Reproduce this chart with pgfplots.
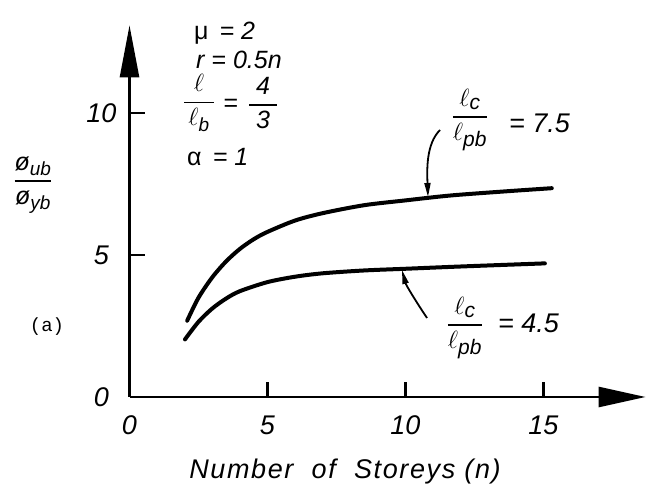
\documentclass[border=0pt]{standalone}
\usepackage{amsmath}
\usepackage{fontspec}
\setmainfont{Liberation Sans}
\newfontfamily\monofont{Liberation Mono}
\newfontfamily\spaced[LetterSpace=6]{Liberation Sans}
\usepackage{pgfplots}
\pgfplotsset{compat=1.18}
\usetikzlibrary{arrows.meta}
\DeclareMathSizes{27}{27}{21}{17}
\DeclareMathSizes{25}{25}{19}{15}
\newcommand{\fr}[2]{\genfrac{}{}{1.6pt}{0}{#1}{#2}}
\newcommand{\ti}[1]{\text{\itshape #1}}
\begin{document}
\begin{tikzpicture}
\useasboundingbox (0,0) rectangle (646pt,490pt);
\begin{axis}[
  anchor=south west, at={(129.5pt,93pt)},
  x=27.6pt, y=28.37pt,
  xmin=0, xmax=18.7, ymin=0, ymax=13.1,
  axis lines=left, enlargelimits=false, clip=false,
  axis line style={line width=2.6pt},
  x axis line style={-{Triangle[length=47pt,width=20pt]}},
  y axis line style={-{Triangle[length=52pt,width=19pt]}},
  xtick={0,5,10,15}, xticklabels={0,5,10,15},
  ytick={0,5,10}, yticklabels={0,5,10},
  tick align=inside, major tick length=15pt,
  tick style={line width=2.4pt, black},
  xticklabel style={anchor=center, yshift=-28pt, font=\fontsize{27}{27}\selectfont\itshape},
  yticklabel style={anchor=center, xshift=-28pt, font=\fontsize{27}{27}\selectfont\itshape},
]
\addplot[smooth, line width=4pt, line cap=round, black] coordinates {
 (2.09,2.69) (2.5,3.5) (3.0,4.22) (3.5,4.78) (4.0,5.22) (4.5,5.56) (5.0,5.82) (6.0,6.22)
 (7.0,6.48) (8.5,6.76) (10,6.93) (11.6,7.10) (13.5,7.24) (15.3,7.36)};
\addplot[smooth, line width=4pt, line cap=round, black] coordinates {
 (2.01,2.03) (2.5,2.65) (3.0,3.12) (3.5,3.47) (4.0,3.73) (5.0,4.05) (6.0,4.24) (7.0,4.36)
 (8.5,4.46) (10,4.52) (12,4.60) (15.05,4.71)};
\end{axis}
% annotation arrows
\draw[line width=1.8pt, -{Triangle[length=14pt,width=6pt]}] (440pt,360pt) .. controls (426pt,346pt) and (427pt,320pt) .. (428pt,293pt);
\draw[line width=1.8pt, -{Triangle[length=14pt,width=6pt]}] (427pt,172pt) .. controls (415pt,190pt) and (406pt,205pt) .. (402pt,220pt);
% curve labels
\node[font=\fontsize{27}{30}\selectfont, inner sep=0pt] at (470pt,370pt) {$\fr{\,\ell_{\ti{c}}\,}{\ell_{\ti{pb}}}$};
\node[font=\fontsize{27}{30}\selectfont\itshape, anchor=west, inner sep=0pt] at (509pt,367pt) {= 7.5};
\node[font=\fontsize{27}{30}\selectfont, inner sep=0pt] at (465pt,162pt) {$\fr{\,\ell_{\ti{c}}\,}{\ell_{\ti{pb}}}$};
\node[font=\fontsize{27}{30}\selectfont\itshape, anchor=west, inner sep=0pt] at (498pt,167pt) {= 4.5};
% parameter block
\node[font=\fontsize{25}{28}\selectfont, anchor=west, inner sep=0pt] at (194pt,457pt) {μ\, \itshape = 2};
\node[font=\fontsize{25}{28}\selectfont\itshape, anchor=west, inner sep=0pt] at (196pt,430pt) {r = 0.5n};
\node[font=\fontsize{25}{28}\selectfont, inner sep=0pt] at (199pt,387pt) {$\fr{\;\ell\;}{\,\ell_{\ti{b}}\,}$};
\node[font=\fontsize{25}{28}\selectfont, inner sep=0pt] at (231pt,385pt) {=};
\node[font=\fontsize{25}{28}\selectfont, inner sep=0pt] at (263pt,387pt) {$\fr{\;\ti{4}\;}{\;\ti{3}\;}$};
\node[font=\fontsize{25}{28}\selectfont, anchor=west, inner sep=0pt] at (187pt,333pt) {α\, \itshape = 1};
% y label
\node[font=\fontsize{25}{28}\selectfont, inner sep=0pt] at (33pt,305pt) {$\fr{\ti{ø}_{\ti{ub}}}{\ti{ø}_{\ti{yb}}}$};
\node[font=\fontsize{19}{21}\selectfont\monofont] at (47pt,163pt) {(a)};
% x label
\node[font=\fontsize{27}{30}\selectfont\spaced\itshape] at (345pt,18pt) {Number\ \ of\ \ Storeys (n)};
\end{tikzpicture}
\end{document}
